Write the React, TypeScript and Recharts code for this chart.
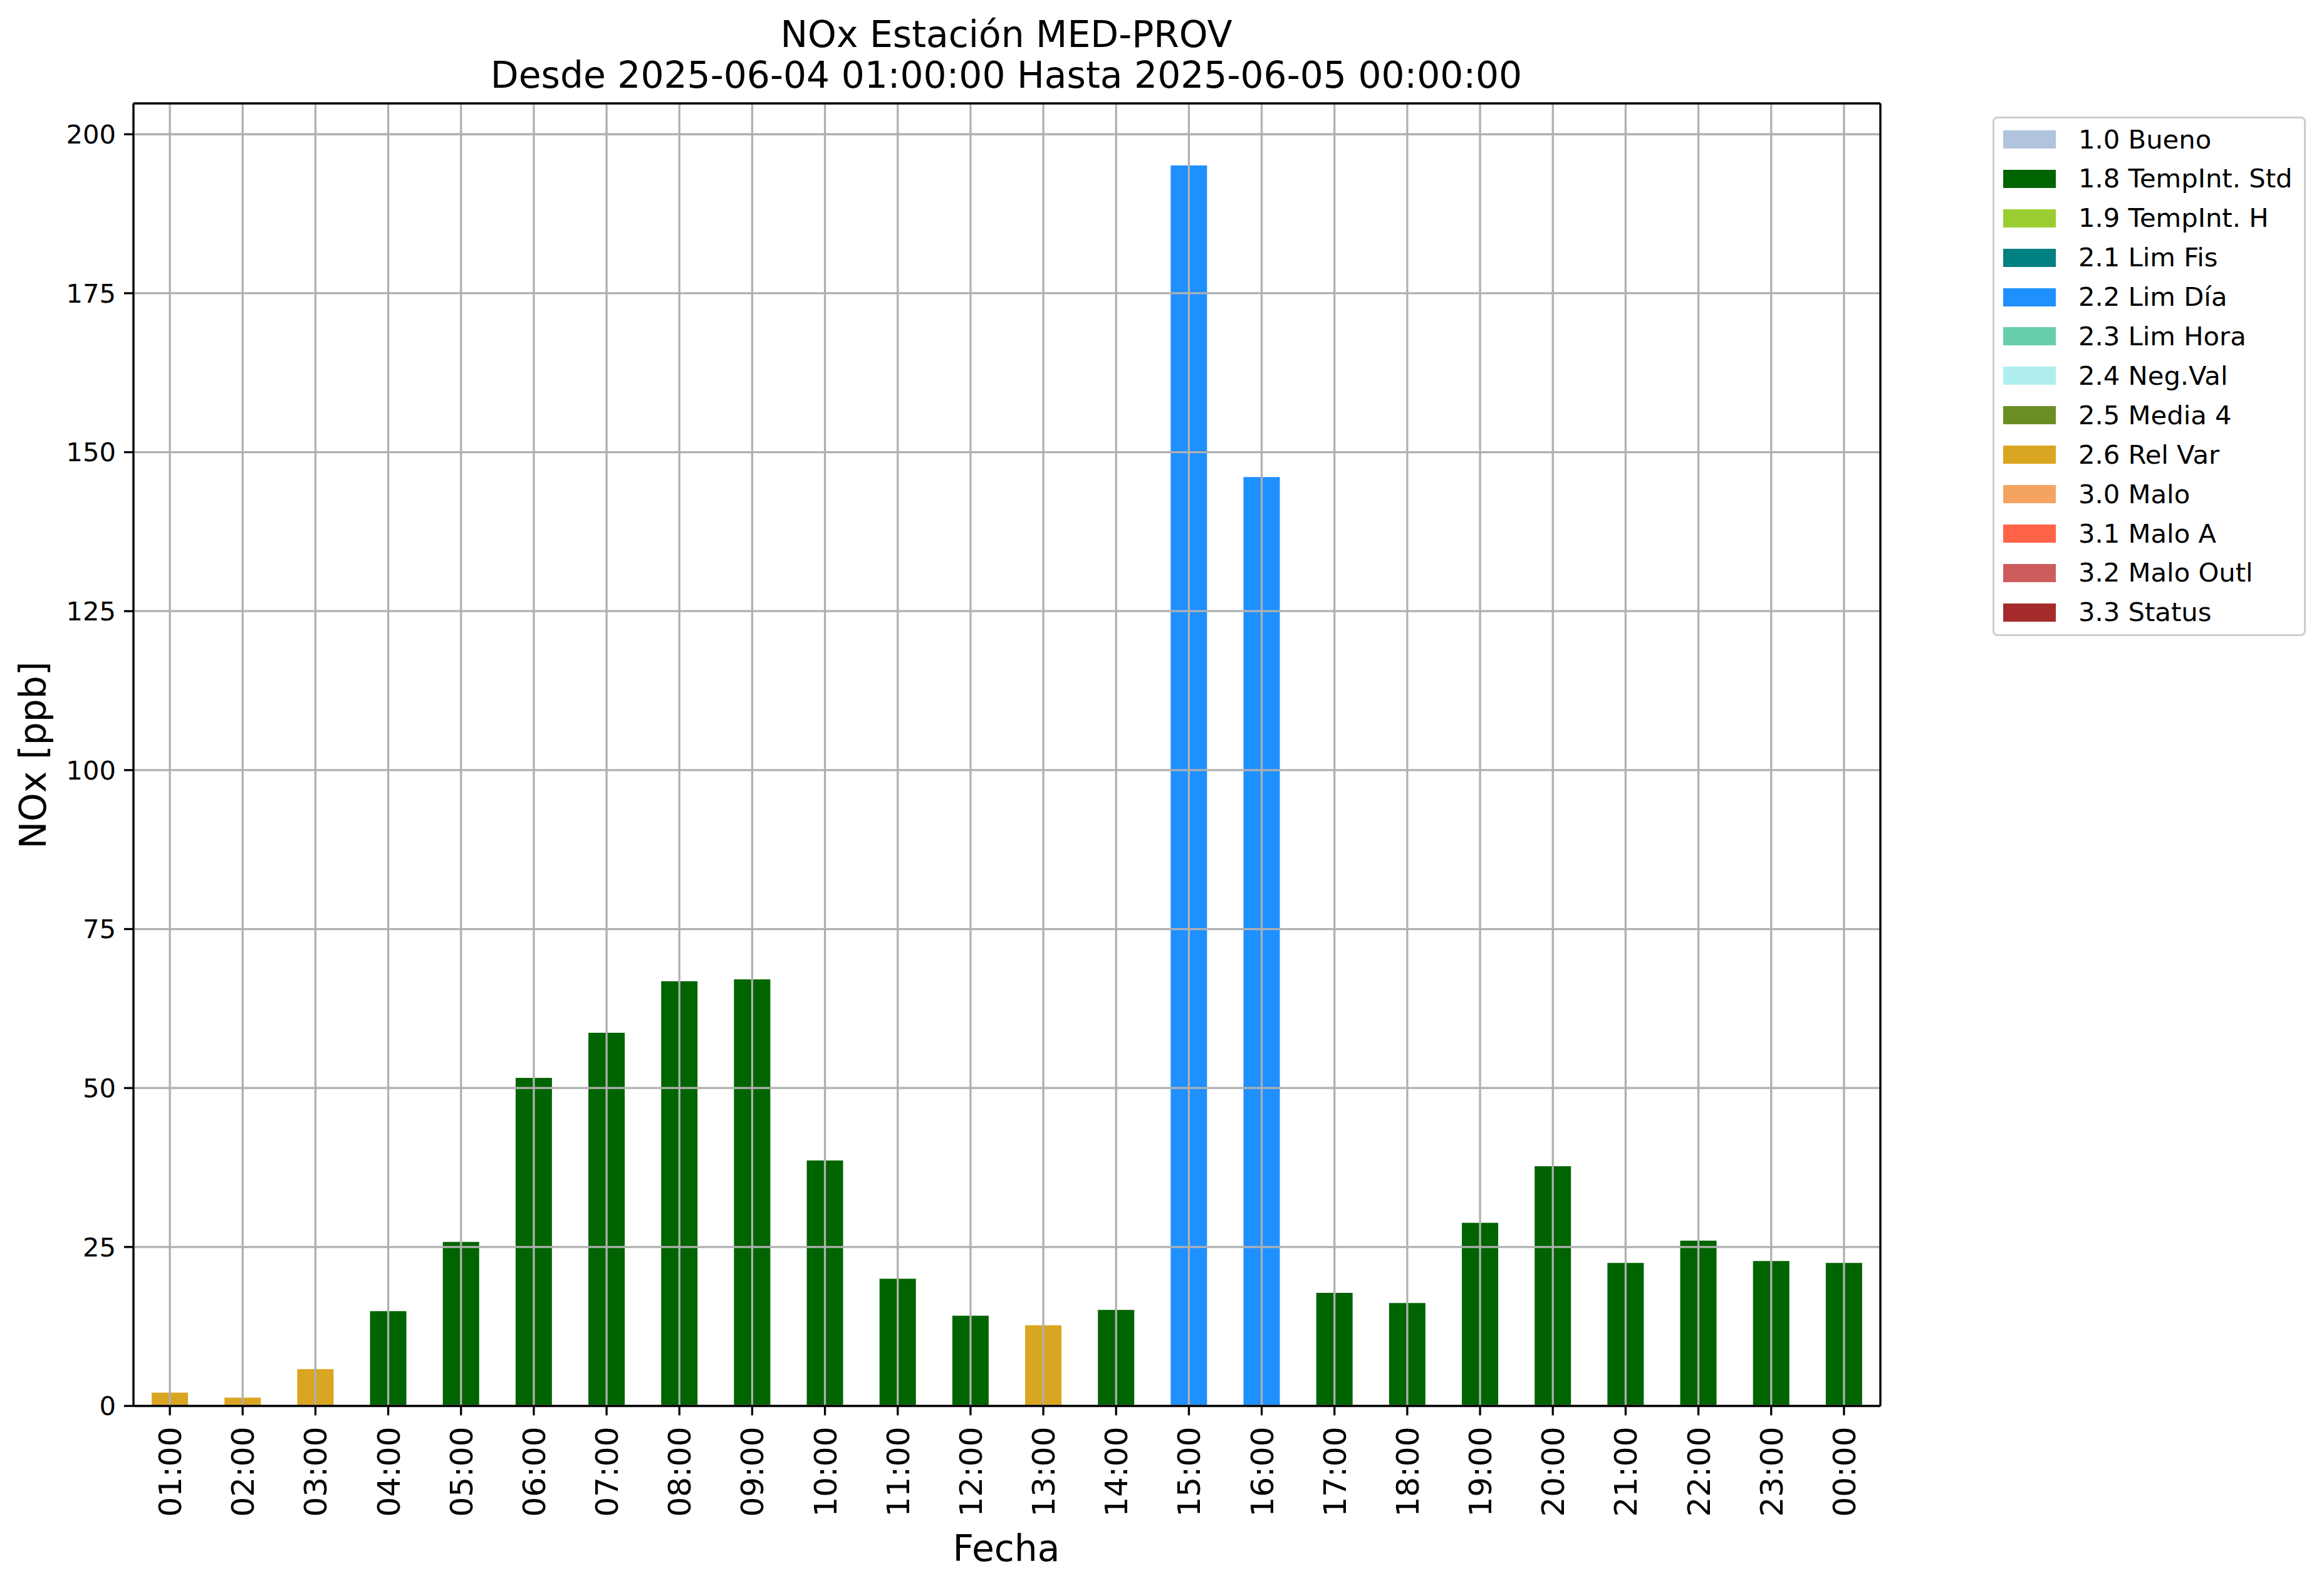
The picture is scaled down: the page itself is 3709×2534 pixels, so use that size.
import React from 'react';
import { BarChart, Bar, XAxis, YAxis, CartesianGrid, Cell } from 'recharts';

const hours = [
  '01:00', '02:00', '03:00', '04:00', '05:00', '06:00', '07:00', '08:00',
  '09:00', '10:00', '11:00', '12:00', '13:00', '14:00', '15:00', '16:00',
  '17:00', '18:00', '19:00', '20:00', '21:00', '22:00', '23:00', '00:00',
];

const noxValues = [
  2.1, 1.3, 5.8, 14.9, 25.8, 51.6, 58.7, 66.8, 67.1, 38.6, 20.0, 14.2,
  12.7, 15.1, 195.1, 146.1, 17.8, 16.2, 28.8, 37.7, 22.5, 26.0, 22.8, 22.5,
];

const flags = [
  '2.6', '2.6', '2.6', '1.8', '1.8', '1.8', '1.8', '1.8', '1.8', '1.8', '1.8', '1.8',
  '2.6', '1.8', '2.2', '2.2', '1.8', '1.8', '1.8', '1.8', '1.8', '1.8', '1.8', '1.8',
];

const flagCodes = ['1.0', '1.8', '1.9', '2.1', '2.2', '2.3', '2.4', '2.5', '2.6', '3.0', '3.1', '3.2', '3.3'];
const flagNames = [
  '1.0 Bueno', '1.8 TempInt. Std', '1.9 TempInt. H', '2.1 Lim Fis', '2.2 Lim Día',
  '2.3 Lim Hora', '2.4 Neg.Val', '2.5 Media 4', '2.6 Rel Var', '3.0 Malo',
  '3.1 Malo A', '3.2 Malo Outl', '3.3 Status',
];
const flagColors = [
  '#B0C4DE', '#006400', '#9ACD32', '#008080', '#1E90FF', '#66CDAA', '#AFEEEE',
  '#6B8E23', '#DAA520', '#F4A460', '#FF6347', '#CD5C5C', '#A52A2A',
];

const yTicks = [0, 25, 50, 75, 100, 125, 150, 175, 200];

const data = hours.map((hour, i) => ({ hour, nox: noxValues[i], flag: flags[i] }));

const colorFor = (flag: string) => flagColors[flagCodes.indexOf(flag)];

const FONT = 'DejaVu Sans, sans-serif';
const LW = 3.3;
const yDomain: any = [0, (dataMax: number) => dataMax * 1.05];

const XTick = ({ x, y, payload }: any) => (
  <g transform={`translate(${x},${y})`}>
    <text
      transform="rotate(-90)"
      textAnchor="end"
      dy="0.36em"
      fontFamily={FONT}
      fontSize={50}
      fill="#000"
    >
      {payload.value}
    </text>
  </g>
);

export default function App() {
  return (
    <div style={{ position: 'absolute', left: 0, top: 0, width: 3709, height: 2534, background: '#fff' }}>
      <BarChart
        width={3709}
        height={2534}
        data={data}
        margin={{ top: 164, right: 707, bottom: 90.5, left: 13 }}
        barCategoryGap="25%"
      >
        <XAxis
          dataKey="hour"
          height={200}
          interval={0}
          tick={<XTick />}
          tickSize={15}
          tickMargin={18}
          axisLine={{ stroke: '#000', strokeWidth: LW }}
          tickLine={{ stroke: '#000', strokeWidth: LW }}
        />
        <XAxis
          xAxisId="top"
          orientation="top"
          dataKey="hour"
          height={1}
          tick={false}
          tickLine={false}
          axisLine={{ stroke: '#000', strokeWidth: LW }}
        />
        <YAxis
          width={200}
          domain={yDomain}
          ticks={yTicks}
          tickSize={15}
          tickMargin={13}
          tick={{ fontFamily: FONT, fontSize: 41.7, fill: '#000' }}
          axisLine={{ stroke: '#000', strokeWidth: LW }}
          tickLine={{ stroke: '#000', strokeWidth: LW }}
        />
        <YAxis
          yAxisId="right"
          orientation="right"
          width={1}
          domain={yDomain}
          tick={false}
          tickLine={false}
          axisLine={{ stroke: '#000', strokeWidth: LW }}
        />
        <Bar dataKey="nox" isAnimationActive={false}>
          {data.map((d, i) => (
            <Cell key={i} fill={colorFor(d.flag)} />
          ))}
        </Bar>
        <CartesianGrid stroke="#b0b0b0" strokeWidth={LW} {...({ zIndex: 400 } as any)} />
      </BarChart>

      <svg
        width={3709}
        height={2534}
        style={{ position: 'absolute', left: 0, top: 0, pointerEvents: 'none' }}
      >
        <text x={1606} y={75} textAnchor="middle" fontFamily={FONT} fontSize={58.3} fill="#000">
          NOx Estación MED-PROV
        </text>
        <text x={1606} y={140} textAnchor="middle" fontFamily={FONT} fontSize={58.3} fill="#000">
          Desde 2025-06-04 01:00:00 Hasta 2025-06-05 00:00:00
        </text>
        <text x={1606} y={2491} textAnchor="middle" fontFamily={FONT} fontSize={58.3} fill="#000">
          Fecha
        </text>
        <text
          transform="translate(73,1205) rotate(-90)"
          textAnchor="middle"
          fontFamily={FONT}
          fontSize={58.3}
          fill="#000"
        >
          NOx [ppb]
        </text>
      </svg>

      <div
        style={{
          position: 'absolute',
          left: 3180,
          top: 186,
          width: 500,
          height: 829,
          boxSizing: 'border-box',
          border: '3px solid #cccccc',
          borderRadius: 8,
          background: 'rgba(255,255,255,0.8)',
          fontFamily: FONT,
          fontSize: 41.7,
          paddingTop: 2,
        }}
      >
        {flagNames.map((name, i) => (
          <div key={name} style={{ display: 'flex', alignItems: 'center', height: 62.9 }}>
            <div style={{ marginLeft: 14, width: 84, height: 29, background: flagColors[i] }} />
            <span style={{ marginLeft: 36, whiteSpace: 'nowrap', lineHeight: 1 }}>{name}</span>
          </div>
        ))}
      </div>
    </div>
  );
}
